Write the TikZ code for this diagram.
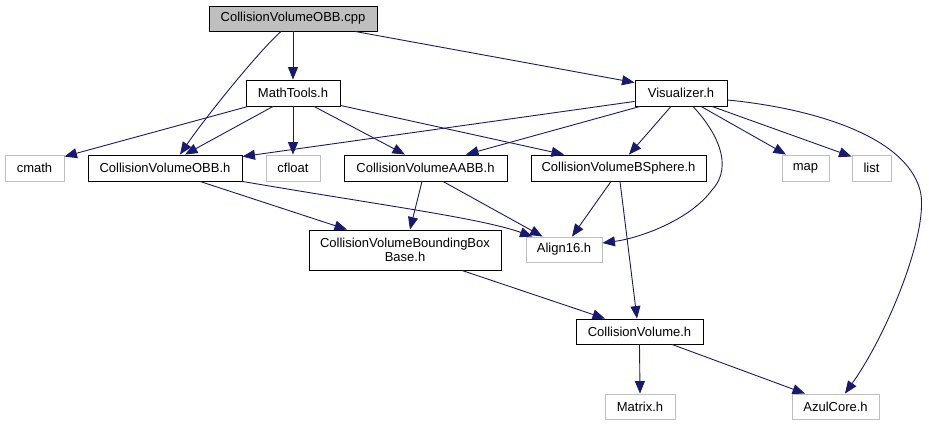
\documentclass[tikz,border=0pt]{standalone}
\usepackage{fontspec}
\setmainfont{Liberation Sans}
\usepackage{tikz}
\usetikzlibrary{arrows.meta}
\usepackage{xcolor}
\definecolor{edgeblue}{RGB}{25,25,112}
\definecolor{boxgray}{RGB}{191,191,191}

\begin{document}
\begin{tikzpicture}[x=1pt, y=-1pt,
    box/.style={draw=black, line width=0.9pt, inner sep=0pt, minimum height=25pt,
      font=\fontsize{13pt}{14.5pt}\selectfont},
    extbox/.style={box, draw=boxgray},
    dep/.style={draw=edgeblue, line width=0.9pt,
      -{Triangle[length=12.5pt, width=10pt, fill=edgeblue]}}]
    \useasboundingbox (0,0) rectangle (929,425);

    % Files
    \node[box, fill=boxgray, minimum width=168pt] (cpp) at (293,18.5) {CollisionVolumeOBB.cpp};
    \node[box, minimum width=94pt, minimum height=26pt] (math) at (293,93) {MathTools.h};
    \node[box, minimum width=92pt, minimum height=26pt] (vis) at (681,93) {Visualizer.h};

    \node[extbox, minimum width=59pt, minimum height=26pt] (cmath) at (34.5,168) {cmath};
    \node[box, minimum width=154pt, minimum height=26pt] (obbh) at (165,168) {CollisionVolumeOBB.h};
    \node[extbox, minimum width=54pt, minimum height=26pt] (cfloat) at (293,168) {cfloat};
    \node[box, minimum width=163pt, minimum height=26pt] (aabb) at (425.5,168) {CollisionVolumeAABB.h};
    \node[box, minimum width=175pt, minimum height=26pt] (bsph) at (618.5,168) {CollisionVolumeBSphere.h};
    \node[extbox, minimum width=47pt, minimum height=26pt] (map) at (805.5,168) {map};
    \node[extbox, minimum width=39pt, minimum height=26pt] (list) at (871.5,168) {list};

    \node[box, minimum width=192pt, minimum height=40pt, align=center] (bbb) at (405,250)
      {CollisionVolumeBoundingBox\\Base.h};
    \node[extbox, minimum width=76pt] (align) at (564,249.5) {Align16.h};

    \node[box, minimum width=127pt] (cv) at (639.5,331.5) {CollisionVolume.h};
    \node[extbox, minimum width=70pt] (matrix) at (640,406.5) {Matrix.h};
    \node[extbox, minimum width=87pt] (azul) at (835.5,406.5) {AzulCore.h};

    % Includes of the .cpp
    \draw[dep] ([xshift=-12pt]cpp.south) .. controls (258,52) and (205,118) .. ([xshift=15pt]obbh.north);
    \draw[dep] (cpp.south) -- (math.north);
    \draw[dep] ([xshift=62pt]cpp.south) -- ([yshift=-3pt]vis.north west);

    % MathTools.h
    \draw[dep] ([xshift=-45pt]math.south) -- ([yshift=-2pt]cmath.north east);
    \draw[dep] ([xshift=-20pt]math.south) -- ([xshift=20pt]obbh.north);
    \draw[dep] (math.south) -- (cfloat.north);
    \draw[dep] ([xshift=21pt]math.south) -- ([xshift=-20.5pt]aabb.north);
    \draw[dep] ([yshift=1pt]math.south east) -- ([xshift=-54.5pt]bsph.north);

    % Visualizer.h
    \draw[dep] ([yshift=5pt]vis.south west) -- ([yshift=-2pt]obbh.north east);
    \draw[dep] ([xshift=-41pt]vis.south) -- ([xshift=40.5pt]aabb.north);
    \draw[dep] ([xshift=-10pt]vis.south) -- ([xshift=10.5pt]bsph.north);
    \draw[dep] ([xshift=12pt]vis.south) .. controls (715,130) and (735,165) .. (712,190)
      .. controls (690,220) and (640,238) .. ([yshift=6.5pt]align.east);
    \draw[dep] ([xshift=20pt]vis.south) -- ([xshift=-19.5pt]map.north);
    \draw[dep] ([xshift=31pt]vis.south) -- ([yshift=-2pt]list.north west);
    \draw[dep] ([yshift=-7pt]vis.east) .. controls (810,108) and (905,135) .. (920,190)
      .. controls (930,227) and (890,330) .. ([xshift=9.5pt]azul.north);

    % Bounding volumes
    \draw[dep] ([xshift=35pt]obbh.south) -- ([xshift=-58pt]bbb.north);
    \draw[dep] (obbh.south east) .. controls (380,205) and (480,218) .. ([xshift=7pt]align.north west);
    \draw[dep] ([xshift=-3.5pt]aabb.south) -- ([xshift=5pt]bbb.north);
    \draw[dep] ([xshift=17.5pt]aabb.south) -- ([xshift=17pt]align.north west);
    \draw[dep] ([xshift=-7.5pt]bsph.south) -- ([xshift=8pt]align.north);
    \draw[dep] ([xshift=1.5pt]bsph.south) -- ([xshift=-2.5pt]cv.north);
    \draw[dep] ([xshift=57pt]bbb.south) -- ([xshift=-34.5pt]cv.north);

    % CollisionVolume.h
    \draw[dep] (cv.south) -- (matrix.north);
    \draw[dep] ([xshift=32.5pt]cv.south) -- ([xshift=-30.5pt]azul.north);
\end{tikzpicture}
\end{document}
